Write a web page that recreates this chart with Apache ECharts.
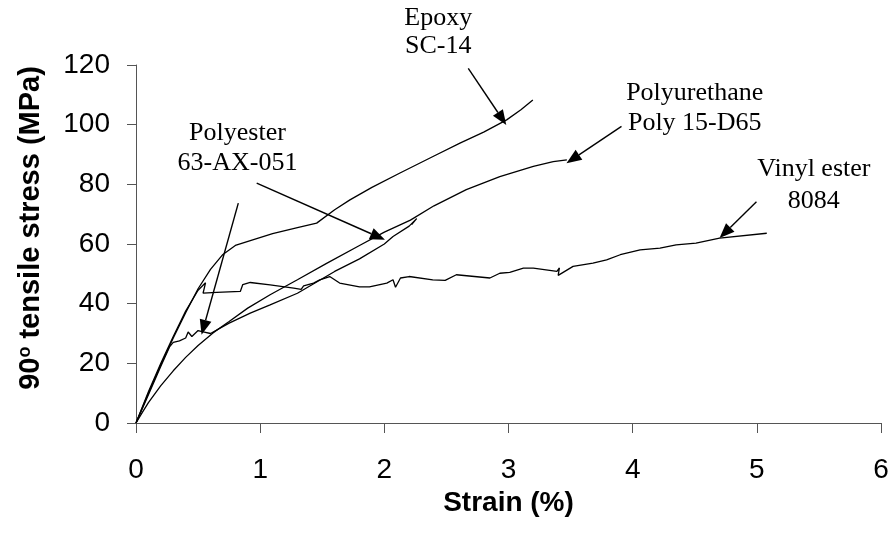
<!DOCTYPE html>
<html><head><meta charset="utf-8">
<script src="https://cdn.jsdelivr.net/npm/echarts@6/dist/echarts.min.js"></script>
<style>html,body{margin:0;padding:0;background:#fff}#c{width:894px;height:538px}</style>
</head><body><div id="c"></div>
<script>
// Strain (%) vs 90° tensile stress (MPa)
const epoxy = [[0,0],[0.1,10],[0.2,19.5],[0.3,28.5],[0.4,37],[0.5,45],[0.6,51.5],[0.7,56.5],[0.8,59.5],[0.94,61.4],[1.1,63.5],[1.3,65.5],[1.455,67],[1.6,71.5],[1.723,74.8],[1.9,79],[2.126,83.8],[2.4,89.5],[2.609,93.8],[2.8,97.5],[2.985,101.6],[3.1,105],[3.196,108.3]];
const vinylEster = [[0,0],[0.1,10.5],[0.2,20],[0.3,29],[0.4,37.5],[0.5,44.5],[0.56,47],[0.54,43.5],[0.65,43.8],[0.84,44.1],[0.86,46.4],[0.92,47.1],[1.08,46.3],[1.27,45.2],[1.33,44.8],[1.35,46],[1.43,46.9],[1.48,48],[1.56,49.1],[1.64,46.9],[1.8,45.6],[1.88,45.6],[2.02,46.9],[2.07,48],[2.09,45.5],[2.13,48.6],[2.2,49.1],[2.39,48],[2.49,47.8],[2.58,49.7],[2.85,48.6],[2.93,50.2],[3.01,50.5],[3.12,51.9],[3.2,51.9],[3.39,50.8],[3.41,52],[3.40,49.5],[3.52,52.5],[3.68,53.6],[3.79,54.7],[3.9,56.4],[4.06,58],[4.22,58.6],[4.35,59.7],[4.51,60.3],[4.7,62],[5.08,63.6]];
const polyester = [[0,0],[0.1,9.5],[0.2,19],[0.27,25.5],[0.3,27],[0.35,27.5],[0.4,28.5],[0.42,30.5],[0.45,29],[0.5,31],[0.55,30.5],[0.6,30],[0.75,33.5],[0.92,36.8],[1.08,39.6],[1.3,43.5],[1.6,50.8],[1.8,55],[2.0,60],[2.07,62.5],[2.2,66],[2.26,68.5],[2.22,66.5]];
const polyurethane = [[0,0],[0.05,3.5],[0.1,6.8],[0.2,12.5],[0.3,17.5],[0.4,22],[0.5,26],[0.62,30.2],[0.75,34],[0.9,38.5],[1.08,43],[1.3,48],[1.535,53.5],[1.8,59.5],[2.0,64],[2.21,68],[2.4,72.8],[2.66,78.2],[2.93,82.6],[3.2,86],[3.36,87.6],[3.47,88.2]];

const labelTexts = [['Epoxy','SC-14'],['Polyurethane','Poly 15-D65'],['Vinyl ester','8084'],['Polyester','63-AX-051']];
const labelCenters = [[[2.434,135.7],[2.434,126.2]],[[4.5,110.7],[4.5,100.6]],[[5.459,85.0],[5.459,74.4]],[[0.817,97.3],[0.817,87.2]]];
const arrows = [[[2.676,118.9],[2.982,99.9]],[[3.91,99.4],[3.467,87.1]],[[4.997,74.2],[4.70,62]],[[0.972,80.4],[2.005,61.4]],[[0.824,73.7],[0.528,29.6]]];

const chart = echarts.init(document.getElementById('c'));
const lineSeries = (name, data) => ({name, type:'line', data, symbol:'none', lineStyle:{color:'#000', width:1.3}, animation:false});
chart.setOption({
  animation:false,
  grid:{left:136, right:13, top:65, bottom:115},
  xAxis:{type:'value', min:0, max:6, interval:1,
    name:'Strain (%)', nameLocation:'middle', nameGap:59,
    nameTextStyle:{fontFamily:'Liberation Sans', fontWeight:'bold', fontSize:28, color:'#000'},
    axisLine:{lineStyle:{color:'#555', width:1}}, axisTick:{length:10, lineStyle:{color:'#555'}},
    axisLabel:{fontFamily:'Liberation Sans', fontSize:28, color:'#000', margin:33},
    splitLine:{show:false}},
  yAxis:{type:'value', min:0, max:120, interval:20,
    name:'90{s|o} tensile stress (MPa)', nameLocation:'middle', nameGap:90, nameRotate:90,
    nameTextStyle:{fontFamily:'Liberation Sans', fontWeight:'bold', fontSize:29, color:'#000', padding:[0,0,0,32],
      rich:{s:{fontFamily:'Liberation Sans', fontWeight:'bold', fontSize:18, verticalAlign:'top', color:'#000', padding:[0,0,12,0]}}},
    axisLine:{show:true, lineStyle:{color:'#555', width:1}}, axisTick:{show:true, length:9, lineStyle:{color:'#555'}},
    axisLabel:{fontFamily:'Liberation Sans', fontSize:28, color:'#000', margin:26},
    splitLine:{show:false}},
  series:[lineSeries('Epoxy SC-14', epoxy), lineSeries('Vinyl ester 8084', vinylEster), lineSeries('Polyester 63-AX-051', polyester), lineSeries('Polyurethane Poly 15-D65', polyurethane)]
});

const px = p => chart.convertToPixel({gridIndex:0}, p);
const g = [];
labelTexts.forEach((lines, i) => {
  lines.forEach((t, j) => {
    const c = px(labelCenters[i][j]);
    g.push({type:'text', x:c[0], y:c[1], style:{text:t, fontFamily:'Liberation Serif', fontSize:26, fill:'#000', align:'center', verticalAlign:'middle'}});
  });
});
arrows.forEach(a => {
  const p0 = px(a[0]), p1 = px(a[1]);
  const dx = p1[0]-p0[0], dy = p1[1]-p0[1], L = Math.hypot(dx, dy);
  const ux = dx/L, uy = dy/L, hl = 15, hw = 6;
  const bx = p1[0]-ux*hl, by = p1[1]-uy*hl;
  g.push({type:'line', shape:{x1:p0[0], y1:p0[1], x2:bx, y2:by}, style:{stroke:'#000', lineWidth:1.4}});
  g.push({type:'polygon', shape:{points:[[p1[0],p1[1]],[bx-uy*hw, by+ux*hw],[bx+uy*hw, by-ux*hw]]}, style:{fill:'#000'}});
});
chart.setOption({graphic:g});
</script></body></html>
